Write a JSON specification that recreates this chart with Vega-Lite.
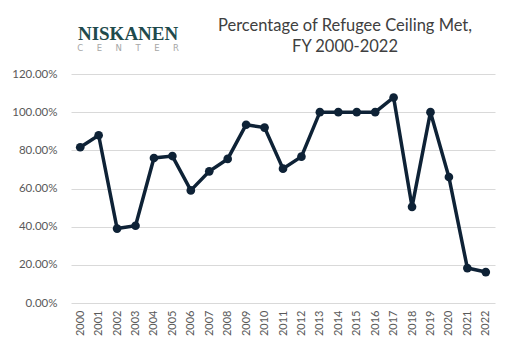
{
  "$schema": "https://vega.github.io/schema/vega-lite/v6.json",
  "autosize": {"type": "none"},
  "width": 424,
  "height": 229,
  "padding": {"left": 71, "top": 74, "right": 17, "bottom": 47},
  "background": "white",
  "title": {
    "text": ["Percentage of Refugee Ceiling Met,", "FY 2000-2022"],
    "anchor": "middle",
    "dx": 62,
    "dy": 45,
    "font": "Lato",
    "fontSize": 16.5,
    "fontWeight": "normal",
    "color": "#404040",
    "lineHeight": 21,
    "offset": 14
  },
  "data": {
    "values": [
      {"year": "2000", "pct": 0.816},
      {"year": "2001", "pct": 0.879},
      {"year": "2002", "pct": 0.39},
      {"year": "2003", "pct": 0.405},
      {"year": "2004", "pct": 0.76},
      {"year": "2005", "pct": 0.77},
      {"year": "2006", "pct": 0.59},
      {"year": "2007", "pct": 0.69},
      {"year": "2008", "pct": 0.755},
      {"year": "2009", "pct": 0.934},
      {"year": "2010", "pct": 0.919},
      {"year": "2011", "pct": 0.704},
      {"year": "2012", "pct": 0.767},
      {"year": "2013", "pct": 1.0},
      {"year": "2014", "pct": 1.0},
      {"year": "2015", "pct": 1.0},
      {"year": "2016", "pct": 1.0},
      {"year": "2017", "pct": 1.077},
      {"year": "2018", "pct": 0.504},
      {"year": "2019", "pct": 1.0},
      {"year": "2020", "pct": 0.66},
      {"year": "2021", "pct": 0.183},
      {"year": "2022", "pct": 0.162}
    ]
  },
  "encoding": {
    "x": {
      "field": "year",
      "type": "ordinal",
      "title": null,
      "axis": {
        "labelAngle": -90,
        "labelFont": "Lato",
        "labelFontSize": 11,
        "labelColor": "#595959",
        "labelPadding": 7,
        "ticks": false,
        "domain": false,
        "grid": false
      }
    },
    "y": {
      "field": "pct",
      "type": "quantitative",
      "title": null,
      "scale": {"domain": [0, 1.2], "nice": false},
      "axis": {
        "values": [0, 0.2, 0.4, 0.6, 0.8, 1.0, 1.2],
        "format": ".2%",
        "labelFont": "Lato",
        "labelFontSize": 11.5,
        "labelColor": "#595959",
        "labelPadding": 14,
        "ticks": false,
        "domain": false,
        "grid": true,
        "gridColor": "#d9d9d9",
        "gridWidth": 1
      }
    }
  },
  "layer": [
    {
      "mark": {"type": "line", "color": "#0e2236", "strokeWidth": 3.5, "point": {"filled": true, "size": 75, "color": "#0e2236"}}
    },
    {
      "transform": [{"filter": "datum.year == '2002'"}],
      "mark": {"type": "text", "text": "NISKANEN", "font": "Liberation Serif", "fontSize": 19, "fontWeight": "bold", "color": "#1f4a4c", "align": "center", "baseline": "alphabetic", "dx": 11},
      "encoding": {"x": {"datum": "2002"}, "y": {"datum": 1.38}}
    },
    {
      "transform": [{"filter": "datum.year == '2002'"}],
      "mark": {"type": "text", "text": "C\u00a0\u00a0\u00a0\u00a0\u00a0E\u00a0\u00a0\u00a0\u00a0\u00a0N\u00a0\u00a0\u00a0\u00a0\u00a0T\u00a0\u00a0\u00a0\u00a0\u00a0E\u00a0\u00a0\u00a0\u00a0\u00a0R", "font": "DejaVu Sans", "fontSize": 8.5, "fontWeight": "normal", "color": "#a6a6a6", "align": "center", "baseline": "alphabetic", "dx": 11},
      "encoding": {"x": {"datum": "2002"}, "y": {"datum": 1.322}}
    }
  ],
  "config": {"view": {"stroke": null}}
}
